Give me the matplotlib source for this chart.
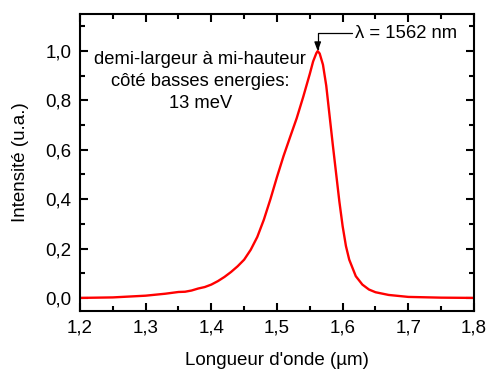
import matplotlib
matplotlib.use('Agg')
import matplotlib.pyplot as plt
from matplotlib.ticker import MultipleLocator, FuncFormatter

plt.rcParams['font.family'] = ['Liberation Sans', 'DejaVu Sans']

# spectre
wavelength = [1.20, 1.25, 1.30, 1.33, 1.35, 1.36, 1.37, 1.38, 1.39, 1.40, 1.41, 1.42, 1.43,
              1.44, 1.45, 1.46, 1.47, 1.48, 1.49, 1.50, 1.51, 1.52, 1.53, 1.54, 1.55,
              1.555, 1.56, 1.562, 1.565, 1.57, 1.575, 1.58, 1.585, 1.59, 1.595, 1.60,
              1.605, 1.61, 1.62, 1.63, 1.64, 1.65, 1.67, 1.70, 1.75, 1.80]
intensity = [0.000, 0.002, 0.009, 0.017, 0.024, 0.025, 0.030, 0.038, 0.044, 0.054, 0.068,
             0.085, 0.105, 0.128, 0.155, 0.195, 0.247, 0.317, 0.400, 0.490, 0.575, 0.652,
             0.728, 0.815, 0.908, 0.958, 0.992, 1.000, 0.990, 0.945, 0.860, 0.740, 0.620,
             0.505, 0.390, 0.290, 0.210, 0.155, 0.088, 0.054, 0.034, 0.023, 0.012, 0.004,
             0.001, 0.000]

peak_x = 1.562
peak_y = 1.0

fig = plt.figure(figsize=(4.89, 3.70), dpi=100)
ax = fig.add_axes([0.1636, 0.1595, 0.8057, 0.8025])

ax.plot(wavelength, intensity, color='red', lw=1.7)

ax.set_xlim(1.2, 1.8)
ax.set_ylim(-0.053, 1.15)
ax.xaxis.set_major_locator(MultipleLocator(0.1))
ax.xaxis.set_minor_locator(MultipleLocator(0.05))
ax.yaxis.set_major_locator(MultipleLocator(0.2))
ax.yaxis.set_minor_locator(MultipleLocator(0.1))
comma = FuncFormatter(lambda v, p: ('%.1f' % v).replace('.', ','))
ax.xaxis.set_major_formatter(comma)
ax.yaxis.set_major_formatter(comma)
ax.tick_params(which='both', direction='in', top=True, right=True, width=1.5, labelsize=13.5, pad=6)
ax.tick_params(which='major', length=6)
ax.tick_params(which='minor', length=3.5)
for s in ax.spines.values():
    s.set_linewidth(1.5)

ax.set_xlabel("Longueur d'onde (µm)", fontsize=13.5, labelpad=11)
ax.set_ylabel("Intensité (u.a.)", fontsize=13.5, labelpad=12)

ax.annotate('λ = 1562 nm', xy=(peak_x, peak_y), xytext=(1.619, 1.073),
            fontsize=13.3, ha='left', va='center',
            arrowprops=dict(arrowstyle='-|>,head_length=0.4,head_width=0.15', color='black',
                            lw=0.9, shrinkA=0, shrinkB=0, relpos=(0, 0.5),
                            connectionstyle='angle,angleA=180,angleB=90,rad=0'))

ax.text(1.383, 0.876, 'demi-largeur à mi-hauteur\ncôté basses energies:\n13 meV',
        fontsize=13.2, ha='center', va='center', multialignment='center', linespacing=1.4)

plt.savefig('out.png', dpi=100)
